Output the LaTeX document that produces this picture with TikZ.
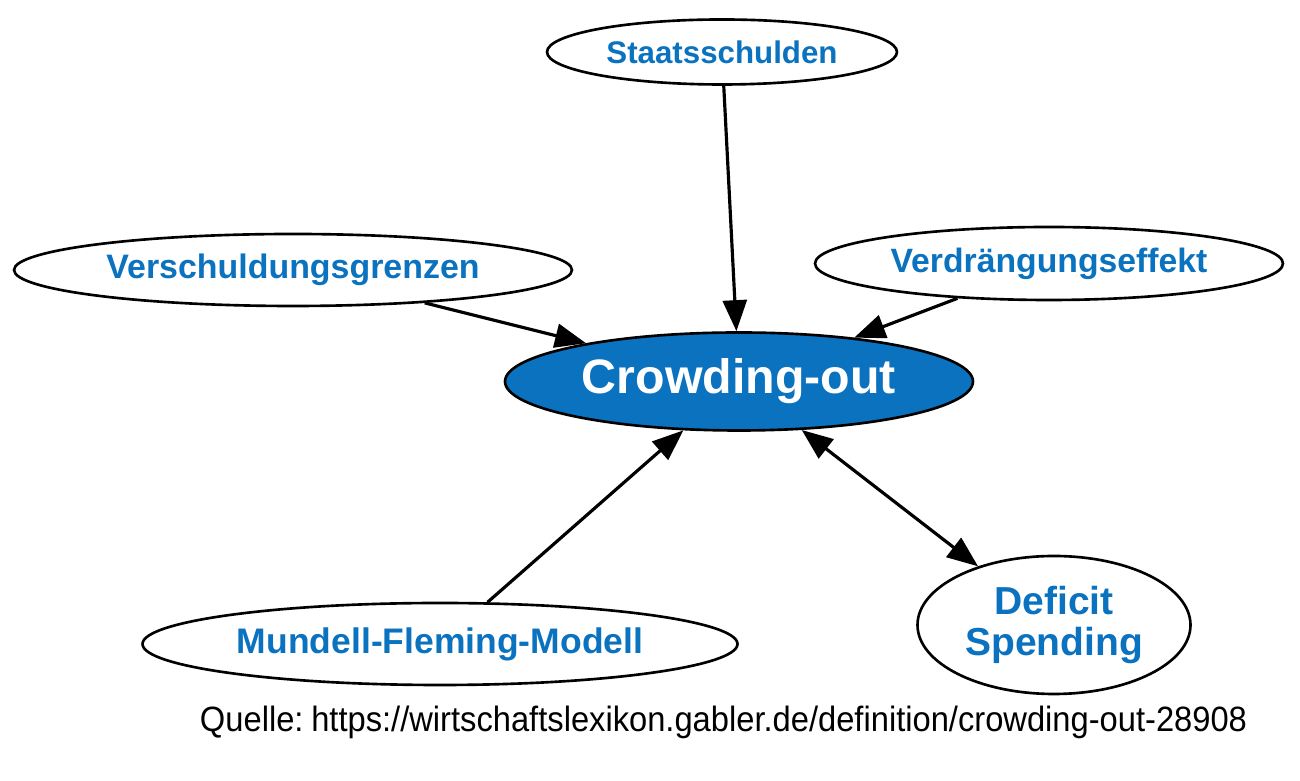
\documentclass[tikz,border=0pt]{standalone}
\usepackage{fontspec}
\setmainfont{Liberation Sans}
\newfontfamily\srcfont[FakeStretch=0.93]{Liberation Sans}
\usetikzlibrary{shapes.geometric,arrows.meta}
\definecolor{gablerblue}{HTML}{0A72BF}

\begin{document}
\begin{tikzpicture}[every node/.style={draw, ellipse, line width=1.5pt, inner sep=0pt, text=gablerblue, font=\bfseries},
	>={Triangle[length=0.62cm, width=0.48cm]}, line width=1.8pt]
	\useasboundingbox (0,0) rectangle (26,15.62);

	\node[minimum width=9.36cm, minimum height=1.96cm, fill=gablerblue, text=white, font=\bfseries\fontsize{27.5}{30}\selectfont] at (14.78, 7.99) (CO) {Crowding-out};
	\node[minimum width=7.0cm, minimum height=1.3cm, font=\bfseries\fontsize{17.8}{20}\selectfont] at (14.44, 14.58) (SS) {Staatsschulden};
	\node[minimum width=11.16cm, minimum height=1.44cm, font=\bfseries\fontsize{19.3}{21}\selectfont] at (5.86, 10.22) (VG) {Verschuldungsgrenzen};
	\node[minimum width=9.36cm, minimum height=1.46cm, font=\bfseries\fontsize{19.2}{21}\selectfont] at (20.98, 10.35) (VE) {Verdrängungseffekt};
	\node[minimum width=11.9cm, minimum height=1.64cm, font=\bfseries\fontsize{20.2}{22}\selectfont] at (8.8, 2.74) (MF) {Mundell-Fleming-Modell};
	\node[minimum width=5.46cm, minimum height=2.76cm, align=center, font=\bfseries\fontsize{22.2}{23}\selectfont] at (21.08, 3.12) (DS) {Deficit\\Spending};

	\node[draw=none, text=black, font=\srcfont\fontsize{20}{22}\selectfont] at (14.47, 1.18) (Q) {Quelle:\hspace{0.22em}https://wirtschaftslexikon.gabler.de/definition/crowding-out-28908};

	\draw [->] (SS) edge (CO) (VG) edge (CO) (VE) edge (CO);
	\draw [->] (MF) edge (CO);
	\draw [<->] (CO) edge (DS);
\end{tikzpicture}
\end{document}
